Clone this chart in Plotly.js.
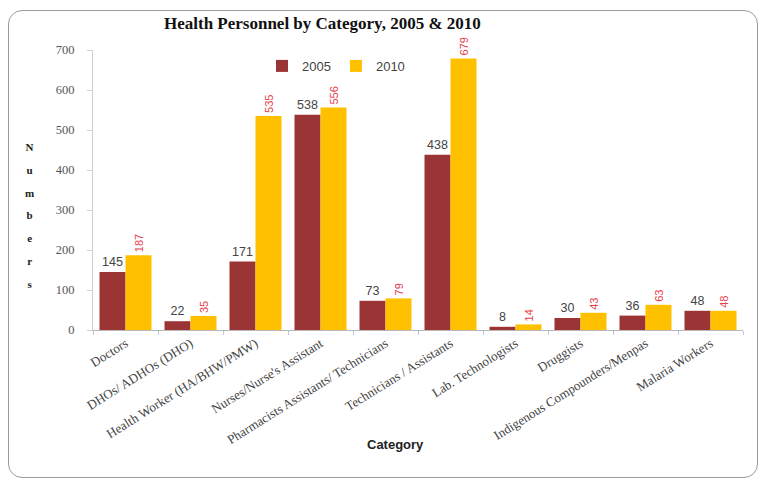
<!DOCTYPE html>
<html><head><meta charset="utf-8">
<script src="https://cdn.plot.ly/plotly-3.0.1.min.js"></script>
<style>
html,body{margin:0;padding:0;background:#fff;}
#frame{position:absolute;left:8px;top:10px;width:750px;height:468px;border:1.5px solid #9a9a9a;border-radius:14px;box-sizing:border-box;}
#chart{position:absolute;left:0;top:0;width:764px;height:484px;}
</style></head>
<body>
<div id="frame"></div>
<div id="chart"></div>
<script>
const categories = ["Doctors","DHOs/ ADHOs (DHO)","Health Worker (HA/BHW/PMW)","Nurses/Nurse's Assistant","Pharmacists Assistants/ Technicians","Technicians / Assistants","Lab. Technologists","Druggists","Indigenous Compounders/Menpas","Malaria Workers"];
const values2005 = [145,22,171,538,73,438,8,30,36,48];
const values2010 = [187,35,535,556,79,679,14,43,63,48];
const yTicks = [0,100,200,300,400,500,600,700];
const yLetters = "Numbers".split("");

const data = [
  {type:'bar', name:'2005', x:categories, y:values2005, marker:{color:'#9b3535'},
   text:values2005.map(String), textposition:'outside', cliponaxis:false,
   textfont:{family:'Liberation Sans, Arial', size:12.5, color:'#444'}, textangle:0},
  {type:'bar', name:'2010', x:categories, y:values2010, marker:{color:'#ffc000'},
   text:values2010.map(String), textposition:'outside', cliponaxis:false,
   textfont:{family:'Liberation Sans, Arial', size:11, color:'#e8404a'}, textangle:-90}
];

const layout = {
  width:764, height:484,
  margin:{l:93, r:21, t:50, b:154},
  paper_bgcolor:'rgba(0,0,0,0)', plot_bgcolor:'rgba(0,0,0,0)',
  title:{text:'<b>Health Personnel by Category, 2005 & 2010</b>', x:0.422, xanchor:'center', y:0.953, yanchor:'middle',
         font:{family:'Liberation Serif, serif', size:17, color:'#111'}},
  barmode:'group', bargap:0.2, bargroupgap:0,
  xaxis:{type:'category', showline:true, linecolor:'#b8b8b8', linewidth:1, ticks:'outside', tickson:'boundaries',
         ticklen:4, tickcolor:'#b8c8e0', tickangle:-32,
         tickfont:{family:'Liberation Serif, serif', size:13, color:'#444'},
         automargin:false},
  yaxis:{range:[0,700], tickvals:yTicks, showgrid:false, zeroline:false, showline:true, linecolor:'#d0d0d0',
         ticks:'outside', ticklen:5, tickcolor:'#d0d0d0', ticklabelstandoff:10,
         tickfont:{family:'Liberation Serif, serif', size:12.5, color:'#555'}, automargin:false},
  legend:{orientation:'h', x:0.26, y:0.943, xanchor:'left', yanchor:'middle', bgcolor:'rgba(0,0,0,0)',
          font:{family:'Liberation Sans, Arial', size:13, color:'#444'}, itemwidth:30, traceorder:'normal'},
  annotations:[
    {xref:'paper', yref:'paper', x:-0.108, y:0.41, yanchor:'middle',
     text:'<b>' + yLetters.map(c => '<span style="font-size:11px">' + c + '</span>').join('<br>') + '</b>',
     showarrow:false, font:{family:'Liberation Serif, serif', size:17.5, color:'#222'}, align:'center'},
    {xref:'paper', yref:'paper', x:0.466, y:-0.41, yanchor:'middle', xanchor:'center',
     text:'<b>Category</b>', showarrow:false,
     font:{family:'Liberation Sans, Arial', size:13, color:'#222'}}
  ],
  showlegend:true
};
Plotly.newPlot('chart', data, layout, {displayModeBar:false, staticPlot:true});
</script>
</body></html>
